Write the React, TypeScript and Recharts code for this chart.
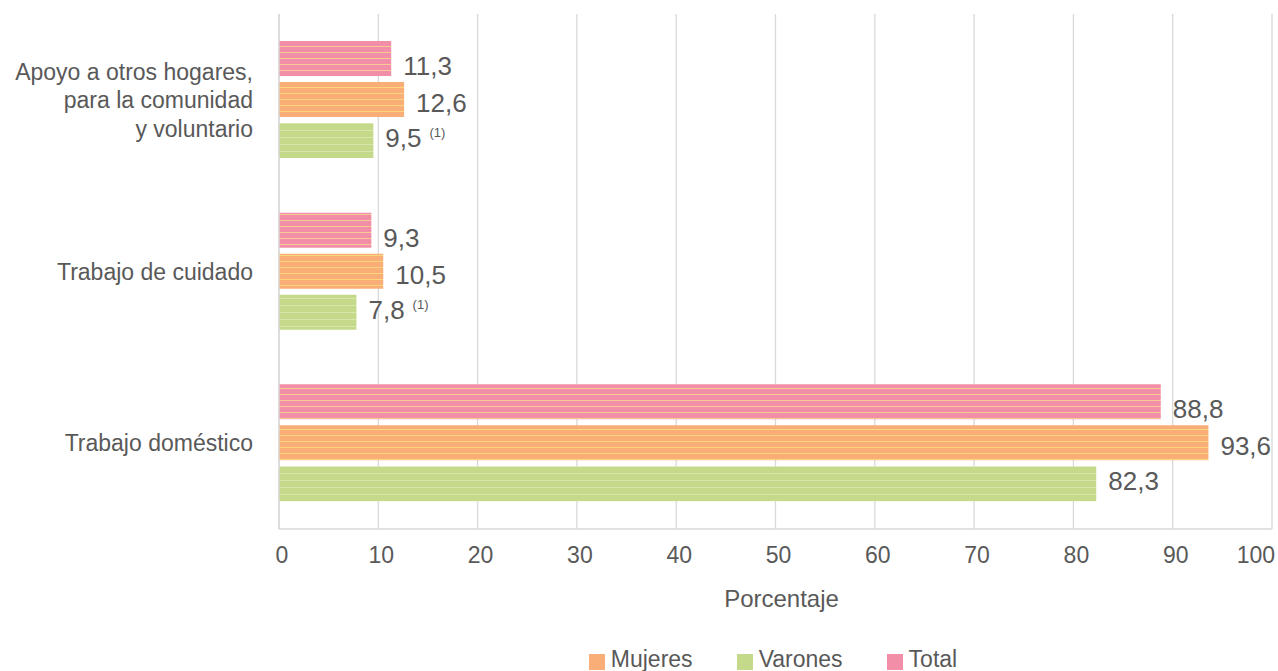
import React from 'react'
import { BarChart, Bar, XAxis, YAxis, CartesianGrid, LabelList } from 'recharts'

const categories = ['Apoyo a otros hogares,\npara la comunidad\ny voluntario', 'Trabajo de cuidado', 'Trabajo doméstico']
const totalValues = [11.3, 9.3, 88.8]
const mujeresValues = [12.6, 10.5, 93.6]
const varonesValues = [9.5, 7.8, 82.3]
const varonesNotes = ['(1)', '(1)', '']
const xTicks = [0, 10, 20, 30, 40, 50, 60, 70, 80, 90, 100]

const COLORS = {
  total: '#f28ea8',
  mujeres: '#f9ae78',
  varones: '#c4d98a',
}
const TEXT = '#595959'
const FONT = '"Liberation Sans", Arial, Helvetica, sans-serif'

const data = categories.map((c, i) => ({
  name: c,
  total: totalValues[i],
  mujeres: mujeresValues[i],
  varones: varonesValues[i],
}))

const fmt = (v: number) => v.toFixed(1).replace('.', ',')

function CategoryTick({ x, y, payload }: any) {
  const lines = String(payload.value).split('\n')
  return (
    <text x={x} y={y} textAnchor="end" fill={TEXT} fontSize={23} fontFamily={FONT}>
      {lines.map((l, i) => (
        <tspan key={i} x={x} y={y + (i - (lines.length - 1) / 2) * 28.5} dy="0.36em">
          {l}
        </tspan>
      ))}
    </text>
  )
}

// last tick would run off the right edge, so it is pulled inside like the original
function ValueTick({ x, y, payload }: any) {
  const last = payload.value === xTicks[xTicks.length - 1]
  return (
    <text
      x={last ? x + 3 : x + 3}
      y={y}
      dy="0.71em"
      textAnchor={last ? 'end' : 'middle'}
      fill={TEXT}
      fontSize={23}
      fontFamily={FONT}
    >
      {payload.value}
    </text>
  )
}

function makeLabel(dy: number, withNote: boolean) {
  return (props: any) => {
    const { x, y, width, height, value, index } = props
    const note = withNote ? varonesNotes[index] : ''
    return (
      <text
        x={x + width + 12}
        y={y + height / 2 + dy}
        dy="0.36em"
        fill={TEXT}
        fontSize={26}
        fontFamily={FONT}
      >
        {fmt(Number(value))}
        {note && (
          <tspan fontSize={13} dx={8} dy={-10}>
            {note}
          </tspan>
        )}
      </text>
    )
  }
}

function AxisTitle(props: any) {
  const vb = props.viewBox || {}
  return (
    <text
      x={vb.x + vb.width / 2 + 6}
      y={607}
      textAnchor="middle"
      fill={TEXT}
      fontSize={24}
      fontFamily={FONT}
    >
      Porcentaje
    </text>
  )
}

const legendItems = [
  { label: 'Mujeres', color: COLORS.mujeres },
  { label: 'Varones', color: COLORS.varones },
  { label: 'Total', color: COLORS.total },
]

export default function App() {
  return (
    <div style={{ position: 'absolute', left: 0, top: 0, width: 1278, height: 671, overflow: 'hidden', background: '#fff' }}>
      <BarChart
        width={1278}
        height={671}
        data={data}
        layout="vertical"
        margin={{ top: 14, right: 6, bottom: 72, left: 0 }}
        barSize={35}
        barGap={6}
      >
        <defs>
          <pattern id="stripeTotal" width="8" height="6" patternUnits="userSpaceOnUse">
            <rect width="8" height="6" fill={COLORS.total} />
            <rect y="4" width="8" height="1" fill="#f8e48f" opacity="0.7" />
          </pattern>
          <pattern id="stripeMujeres" width="8" height="6" patternUnits="userSpaceOnUse">
            <rect width="8" height="6" fill={COLORS.mujeres} />
            <rect y="3" width="8" height="1" fill="#fbe680" opacity="0.7" />
          </pattern>
          <pattern id="stripeVarones" width="8" height="7" patternUnits="userSpaceOnUse">
            <rect width="8" height="7" fill={COLORS.varones} />
            <rect y="4" width="8" height="1" fill="#e4efc4" opacity="0.6" />
          </pattern>
        </defs>
        <CartesianGrid horizontal={false} stroke="#d9d9d9" strokeWidth={1.3} />
        <XAxis
          type="number"
          domain={[0, 100]}
          ticks={xTicks}
          interval={0}
          tickLine={false}
          axisLine={{ stroke: '#d9d9d9', strokeWidth: 1.3 }}
          tickMargin={12}
          tick={<ValueTick />}
          height={70}
          label={<AxisTitle />}
        />
        <YAxis
          type="category"
          dataKey="name"
          width={279}
          tickLine={false}
          tickMargin={20}
          axisLine={{ stroke: '#d9d9d9', strokeWidth: 1.3 }}
          tick={<CategoryTick />}
          interval={0}
        />
        <Bar dataKey="total" fill="url(#stripeTotal)" isAnimationActive={false}>
          <LabelList dataKey="total" content={makeLabel(7, false)} />
        </Bar>
        <Bar dataKey="mujeres" fill="url(#stripeMujeres)" isAnimationActive={false}>
          <LabelList dataKey="mujeres" content={makeLabel(3, false)} />
        </Bar>
        <Bar dataKey="varones" fill="url(#stripeVarones)" isAnimationActive={false}>
          <LabelList dataKey="varones" content={makeLabel(-3, true)} />
        </Bar>
      </BarChart>
      <div
        style={{
          position: 'absolute',
          top: 648,
          left: 0,
          width: 1546,
          display: 'flex',
          justifyContent: 'center',
          gap: 44,
          fontFamily: FONT,
          fontSize: 23,
          lineHeight: '22px',
          color: TEXT,
        }}
      >
        {legendItems.map((it) => (
          <div key={it.label} style={{ display: 'flex', alignItems: 'center' }}>
            <span style={{ display: 'inline-block', width: 16, height: 16, background: it.color, marginRight: 6, marginTop: 6 }} />
            <span>{it.label}</span>
          </div>
        ))}
      </div>
    </div>
  )
}
